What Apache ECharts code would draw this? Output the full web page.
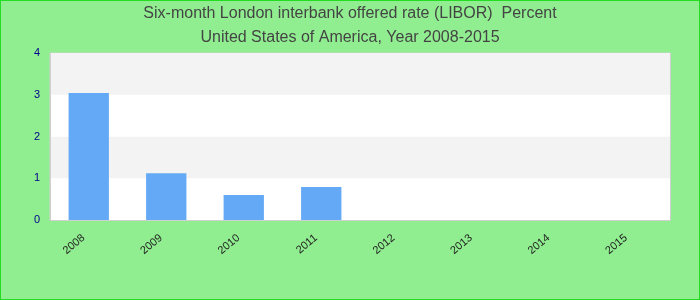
<!DOCTYPE html>
<html>
<head>
<meta charset="utf-8">
<script src="https://cdn.jsdelivr.net/npm/echarts@6/dist/echarts.min.js"></script>
<style>
html,body{margin:0;padding:0;background:#90ee90;}
#c{width:700px;height:300px;box-sizing:border-box;border:1px solid #22dd22;}
</style>
</head>
<body>
<div id="c"></div>
<script>
const titleLine1 = 'Six-month London interbank offered rate (LIBOR)  Percent';
const titleLine2 = 'United States of America, Year 2008-2015';
const categories = ['2008','2009','2010','2011','2012','2013','2014','2015'];
const values = [3.04, 1.12, 0.60, 0.79, null, null, null, null];
const yTicks = [0, 1, 2, 3, 4];

const chart = echarts.init(document.getElementById('c'), null, {renderer:'canvas'});
chart.setOption({
  backgroundColor: '#90ee90',
  animation: false,
  title: {
    text: titleLine1 + '\n' + titleLine2,
    left: 'center',
    top: 1,
    padding: 0,
    textStyle: {fontFamily: 'Liberation Sans', fontSize: 16, fontWeight: 'normal', color: '#444', lineHeight: 24}
  },
  grid: {left: 49, right: 29, top: 52, bottom: 79, show: true, borderColor: '#d0d0d0', borderWidth: 1, backgroundColor: '#ffffff'},
  xAxis: {
    type: 'category',
    data: categories,
    axisLine: {show: true, lineStyle: {color: '#d0d0d0', width: 1}},
    axisTick: {show: false},
    axisLabel: {rotate: 40, fontFamily: 'Liberation Sans', fontSize: 11, color: '#222', margin: 12, padding: [0, 7, 0, 0]}
  },
  yAxis: [{
    type: 'value',
    min: yTicks[0],
    max: yTicks[yTicks.length - 1],
    interval: 1,
    axisLine: {show: true, lineStyle: {color: '#d0d0d0', width: 1}},
    axisTick: {show: false},
    splitLine: {show: false},
    splitArea: {show: true, areaStyle: {color: ['#ffffff', '#f3f3f3']}},
    axisLabel: {fontFamily: 'Liberation Sans', fontSize: 11, color: '#00008b', margin: 10}
  }, {
    type: 'value',
    position: 'right',
    min: yTicks[0],
    max: yTicks[yTicks.length - 1],
    interval: 1,
    axisLine: {show: true, lineStyle: {color: '#d0d0d0', width: 1}},
    axisTick: {show: false},
    axisLabel: {show: false},
    splitLine: {show: false}
  }],
  series: [{
    type: 'bar',
    data: values,
    barWidth: '52%',
    itemStyle: {color: '#63a9f5'}
  }]
});
</script>
</body>
</html>
